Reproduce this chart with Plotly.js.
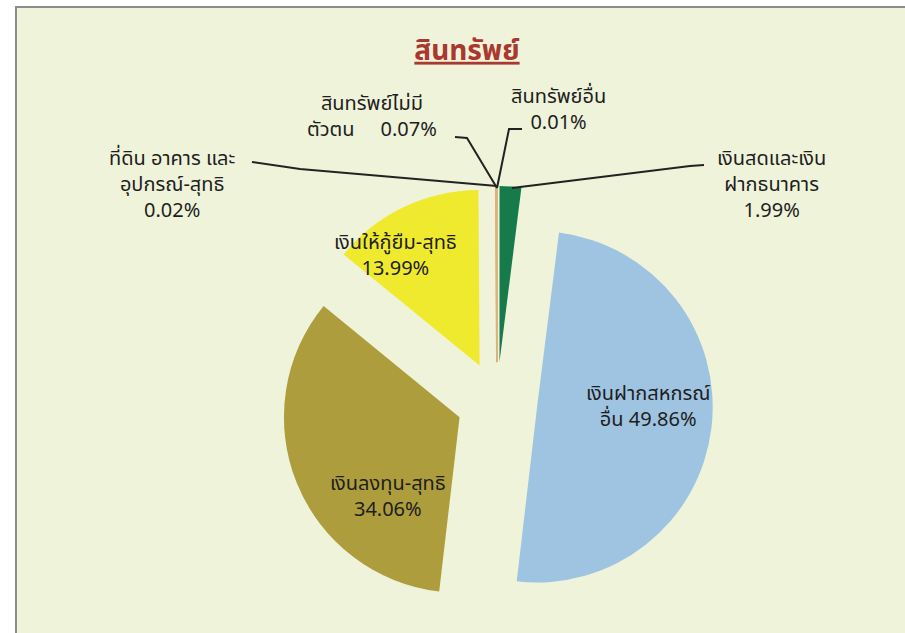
<!DOCTYPE html>
<html>
<head>
<meta charset="utf-8">
<script src="https://cdn.plot.ly/plotly-3.0.1.min.js"></script>
<style>html,body{margin:0;padding:0;background:#fff;}#chart{width:905px;height:633px;}</style>
</head>
<body>
<div id="chart"></div>
<script>
// ---- data ----
const labels = ['เงินสดและเงิน<br>ฝากธนาคาร', 'เงินฝากสหกรณ์<br>อื่น', 'เงินลงทุน-สุทธิ', 'เงินให้กู้ยืม-สุทธิ', 'ที่ดิน อาคาร และ<br>อุปกรณ์-สุทธิ', 'สินทรัพย์ไม่มี<br>ตัวตน', 'สินทรัพย์อื่น'];
const values = [1.99, 49.86, 34.06, 13.99, 0.02, 0.07, 0.01];
const colors = ['#167a4a', '#9fc4e2', '#ae9d3c', '#efea2e', '#d9b27c', '#d9b27c', '#d9b27c'];
const titleText = 'สินทรัพย์';

const W = 905, H = 633;
const px = x => x / W, py = y => 1 - y / H;
const FONT = "Tahoma, 'Noto Sans Thai', 'Noto Sans', 'DejaVu Sans', sans-serif";

// label placement (pixel centres) and leader lines
const labelPos = [[771, 185], [648, 407], [388, 497], [395, 256], [172, 185], [372, 117], [558, 110]];

const annotations = labels.map((lab, i) => {
  let txt;
  const pct = values[i].toFixed(2) + '%';
  if (i === 1) txt = lab + ' ' + pct;
  else if (i === 5) txt = lab + '\u00a0\u00a0\u00a0\u00a0\u00a0' + pct;
  else txt = lab + '<br>' + pct;
  return {
    text: txt, x: px(labelPos[i][0]), y: py(labelPos[i][1]), xref: 'paper', yref: 'paper',
    showarrow: false, xanchor: 'center', yanchor: 'middle', align: 'center',
    font: {family: FONT, size: 20, color: '#1e1e1e'}
  };
});

const leaders = [
  'M704,165 L690,166 L512,188',
  'M252,162 L300,169 L497,186',
  'M455,137 L467,138 L497,188',
  'M522,129 L509,129 L497,188'
];
const toPaper = p => p.replace(/(\d+(?:\.\d+)?),(\d+(?:\.\d+)?)/g, (m, a, b) => px(+a).toFixed(5) + ',' + py(+b).toFixed(5));

const shapes = [{
  type: 'rect', xref: 'paper', yref: 'paper', x0: px(16), x1: px(920), y0: py(7), y1: py(650),
  fillcolor: '#eff3da', line: {color: '#8c8c8c', width: 2}, layer: 'below'
}].concat(leaders.map(d => ({
  type: 'path', xref: 'paper', yref: 'paper', path: toPaper(d), line: {color: '#222', width: 2}
})));

const cx = 497, cy = 402, boxHalf = 216;
const trace = {
  type: 'pie', labels: labels, values: values, sort: false, direction: 'clockwise', rotation: 0,
  marker: {colors: colors, line: {color: colors, width: [0,0,0,0,1.5,1.5,1.5]}},
  pull: 0.23, textinfo: 'none', hoverinfo: 'label+percent', showlegend: false,
  domain: {x: [px(cx - boxHalf), px(cx + boxHalf)], y: [py(cy + boxHalf), py(cy - boxHalf)]}
};

const layout = {
  width: W, height: H, margin: {l: 0, r: 0, t: 0, b: 0},
  paper_bgcolor: '#ffffff', plot_bgcolor: 'rgba(0,0,0,0)',
  title: {text: titleText, x: px(467), y: py(50), xref: 'paper', yref: 'paper', xanchor: 'center', yanchor: 'middle',
    font: {family: FONT, size: 28, color: '#a9382f', weight: 'bold', lineposition: 'under'}},
  annotations: annotations, shapes: shapes, showlegend: false
};

Plotly.newPlot('chart', [trace], layout, {displayModeBar: false, staticPlot: true});
</script>
</body>
</html>
